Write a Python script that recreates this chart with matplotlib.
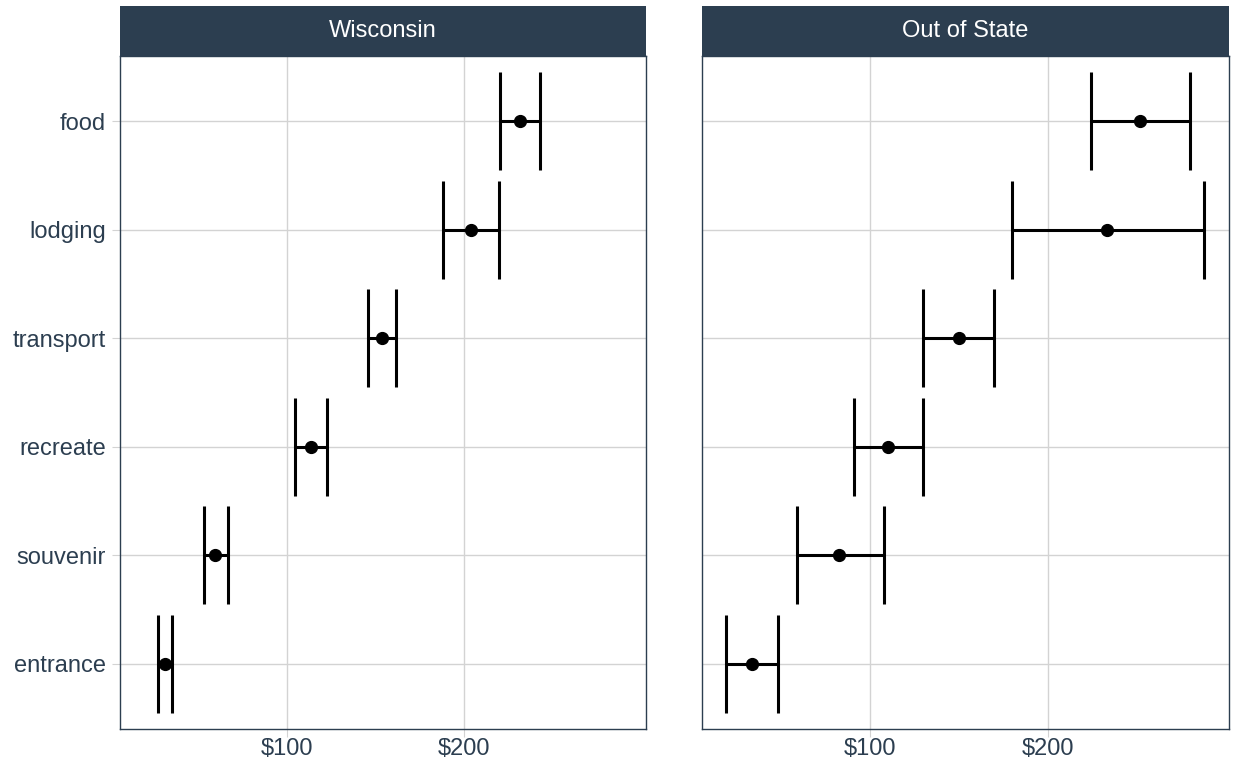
import numpy as np
import matplotlib.pyplot as plt
from matplotlib.ticker import FuncFormatter

plt.rcParams['font.family'] = ['Liberation Sans', 'DejaVu Sans']

categories = ["entrance", "souvenir", "recreate", "transport", "lodging", "food"]
panels = ["Wisconsin", "Out of State"]

# mean spend and interval per category (bottom to top)
wi_mean = [31.5, 59.6, 113.5, 153.4, 203.9, 231.5]
wi_low = [27.5, 53.4, 105.0, 146.0, 188.2, 220.2]
wi_high = [35.4, 66.9, 122.5, 161.8, 219.7, 242.7]

oos_mean = [33.7, 83.1, 110.1, 150.0, 233.7, 252.2]
oos_low = [19.1, 59.0, 91.0, 130.3, 179.8, 224.2]
oos_high = [48.3, 107.9, 129.8, 170.2, 288.2, 280.3]

x_ticks = [100, 200]

navy = "#2C3E50"
grid_col = "#D3D3D3"

W, H = 1233, 767
fig = plt.figure(figsize=(W / 100, H / 100), dpi=100)


def px_axes(x0, y0, x1, y1):
    return fig.add_axes([x0 / W, 1 - y1 / H, (x1 - x0) / W, (y1 - y0) / H])


boxes = [(119.5, 645.7), (702.3, 1229)]
data = [(wi_mean, wi_low, wi_high), (oos_mean, oos_low, oos_high)]
ypos = np.arange(1, len(categories) + 1)

for i, ((x0, x1), (m, lo, hi), title) in enumerate(zip(boxes, data, panels)):
    ax = px_axes(x0, 56, x1, 729)
    ax.set_xlim(6, 302)
    ax.set_ylim(0.4, 6.6)
    ax.set_axisbelow(True)
    ax.grid(True, color=grid_col, linewidth=1)
    ax.hlines(ypos, lo, hi, color="black", linewidth=2.2, zorder=3)
    ax.vlines(lo, ypos - 0.45, ypos + 0.45, color="black", linewidth=2.2, zorder=3)
    ax.vlines(hi, ypos - 0.45, ypos + 0.45, color="black", linewidth=2.2, zorder=3)
    ax.plot(m, ypos, "o", color="black", markersize=8.5, zorder=4)

    ax.set_xticks(x_ticks)
    ax.xaxis.set_major_formatter(FuncFormatter(lambda v, p: f"${v:.0f}"))
    ax.set_yticks(ypos)
    if i == 0:
        ax.set_yticklabels(categories)
        ax.tick_params(axis="y", length=5.8, color=grid_col, labelsize=17,
                       labelcolor=navy, pad=4)
    else:
        ax.set_yticklabels([])
        ax.tick_params(axis="y", length=0)
    ax.tick_params(axis="x", length=5.8, color=grid_col, labelsize=17,
                   labelcolor=navy, pad=0.5)
    for s in ax.spines.values():
        s.set_color(navy)
        s.set_linewidth(1)

    sax = px_axes(x0, 6, x1, 56)
    sax.set_facecolor(navy)
    sax.set_xticks([])
    sax.set_yticks([])
    for s in sax.spines.values():
        s.set_visible(False)
    sax.text(0.5, 0.5, title, color="white", fontsize=17, ha="center",
             va="center", transform=sax.transAxes)

fig.savefig("out.png", dpi=100)
